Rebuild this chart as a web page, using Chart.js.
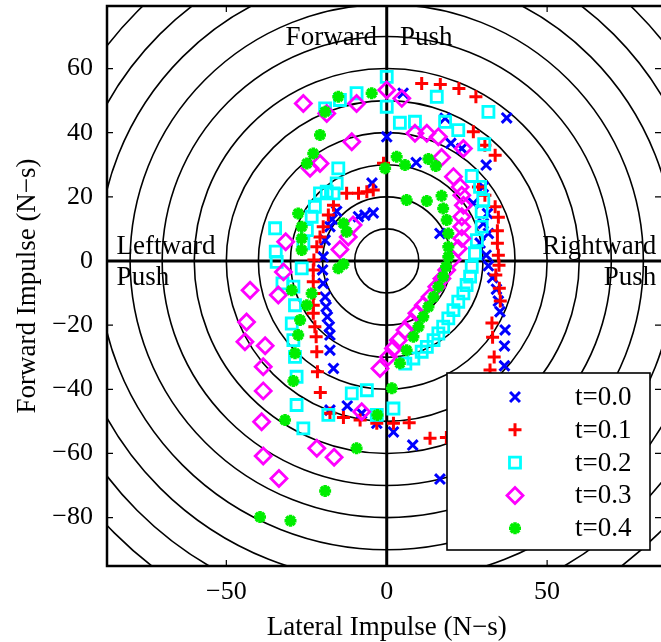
<!DOCTYPE html>
<html>
<head>
<meta charset="utf-8">
<script src="https://cdn.jsdelivr.net/npm/chart.js@4.4.0/dist/chart.umd.min.js"></script>
<style>
  html, body { margin: 0; padding: 0; background: #fff; }
</style>
</head>
<body>
<canvas id="chart" width="661" height="642"></canvas>
<script>
// Tick labels and reference circles
const xTicks = [-50, 0, 50];
const yTicks = [-80, -60, -40, -20, 0, 20, 40, 60];
const circleRadii = [10, 20, 30, 40, 50, 60, 70, 80, 90, 100, 110, 120, 130];
const seriesNames = ['t=0.0', 't=0.1', 't=0.2', 't=0.3', 't=0.4'];

// Impulse points [lateral, forward]
const t00 = [
  [37.4,44.6],[18.2,44.5],[5.1,52.3],[0,38.7],[20,36.7],[23.4,35.1],[9.2,30.7],[31,29.9],[-4.6,24.3],
  [30.1,23.1],[27,18],[31.4,14.8],[30.1,11.7],[16.6,8.6],[31.7,8.6],[29.1,5.6],[31,1.8],[31.7,-1.5],
  [33,-5.2],[34.2,-8.8],[34.8,-12.5],[35.3,-15.8],[36.9,-21.5],[36.7,-26.5],[36.7,-32.7],
  [-15.6,15.5],[-8.8,13.8],[-6.8,14.3],[-4.2,15],[-17,13],[-17.7,10.7],[-19.2,6.5],[-19.8,1.3],
  [-20,-2.8],[-19.8,-7],[-19.2,-11.2],[-18.9,-14.3],[-18.5,-17.4],[-17.9,-20.5],[-17.7,-23.1],
  [-17.7,-27.8],[-16.6,-33.5],
  [-17.7,-46.5],[-12.3,-45.2],[-7.8,-47.5],[-3.1,-50.6],[2.1,-53.3],[8.1,-57.4],[16.6,-68]
];
const t01 = [
  [10.9,55.3],[16.7,55],[22.5,53.8],[27.8,51.2],[27,40.3],[30.6,36.1],[33.8,33],[28.6,23.1],[30.6,20.5],
  [33.8,16.9],[34.8,13.6],[34.5,9.4],[34.5,5.5],[34.8,1.8],[35,-1.3],[34,-4.4],[35.1,-8.5],[35.4,-12.5],
  [32.8,-19.3],[33,-23.8],[33.5,-29.9],[32.2,-34],
  [-1,30.5],[-4.2,22.1],[-6.2,21.6],[-8.8,21.1],[-12.5,21.1],[-16.6,17.4],[-18.2,14.3],[-19.8,10.7],
  [-20.8,7.5],[-21.8,4.4],[-22.7,0.3],[-22.9,-2.8],[-22.9,-6.5],[-22.7,-10.1],[-22.9,-13.8],[-22.9,-16.3],
  [-22.4,-20.5],[-22,-23.6],[-21.8,-28.3],[-21.6,-34.5],[-20.7,-41],
  [-17.7,-47.5],[-13.5,-48.8],[-8.3,-49.6],[-3.1,-50.6],[2.1,-50.6],[7,-50.4],[13.5,-55.3],[18.6,-55]
];
const t02 = [
  [0,57.4],[-9.4,52.3],[-14.6,50.2],[-19.2,47.6],[0,48.1],[15.6,51.2],[4.1,43.1],[8.8,43.4],[18.2,43.4],
  [22.3,40.8],[31.7,46.5],[30.4,36.4],[26.5,26.5],[29.1,23.1],[30.1,19],[29.6,15.3],[29.6,10.7],[28.1,6.5],
  [27.5,2.4],[26.5,-1.8],[26,-4.9],[24.9,-7.5],[23.9,-10.1],[22.3,-12.7],[20.8,-15.3],[19.2,-17.9],
  [17.6,-20.5],[16.1,-22.6],[14.6,-24.7],[12.5,-26.8],[10.9,-28.3],[8.3,-30.4],[5.8,-32],
  [-15.1,28.9],[-15.6,24.2],[-16.6,21.1],[-18.7,21.6],[-20.8,21.1],[-22.4,16.9],[-23.4,13.8],[-24.9,9.6],
  [-26,5.5],[-26.5,-2.3],[-29.1,-8],[-28.6,-13.8],[-29.6,-19.5],[-29.1,-24.7],[-28.6,-29.9],[-28.1,-36.1],
  [-34.8,10.2],[-34.6,2.9],[-34.3,-0.3],[-32.5,-7],
  [-28.1,-44.9],[-26,-52.2],[-18.2,-48],[-10.9,-41.3],[-6.2,-40.3],[-3.1,-48],[2.1,-46]
];
const t03 = [
  [-26,49.1],[-18.7,46],[-9.4,49.1],[0,53.3],[4.7,50.7],[-10.9,37.2],[-20.8,30.4],[-23.9,28.9],
  [8.8,39.8],[12.5,39.8],[16.1,38.7],[17.1,32.3],[23.9,35.1],[20.8,26.3],[22.9,23.1],[23.4,20.5],
  [23.9,17.4],[23.4,13.8],[23.4,10.7],[23.4,7],[22.3,3.9],[20.5,0.5],[18.7,-2.8],[17.2,-5.5],[15.6,-8],
  [13.5,-11.2],[11.4,-13.8],[9.4,-16.3],[7.8,-19],[5.7,-21.5],[3.6,-24.7],[2.1,-27.3],[0.5,-29.9],[-2.1,-33.5],
  [-14.6,3.6],[-12,7.5],[-10.5,11.2],
  [-31.5,6],[-32.2,-3.4],[-42.6,-9.1],[-33.8,-10.6],[-43.7,-19],[-44.2,-25.2],[-37.9,-26.4],[-38.5,-33],
  [-38.5,-40.5],[-39,-50.1],[-38.5,-60.8],[-33.6,-67.8],[-21.8,-58.4],[-16.4,-61.2],[-7.8,-47]
];
const t04 = [
  [-15.1,51.2],[-4.7,52.3],[-19.2,46.5],[-20.8,39.3],[-22.9,33.5],[-24.9,30.4],[-0.5,28.9],[3.1,32.5],
  [5.7,29.9],[13,31.8],[15.3,29.6],[6.2,19],[12.5,18.7],[17.1,20.3],[17.6,16.4],[18.7,12.8],[19.2,8.6],
  [19.2,4.4],[19.2,1.3],[18.5,-1.8],[17.6,-4.9],[16.1,-8],[14.6,-11.2],[13,-14.3],[11.4,-17.4],[9.9,-20.5],
  [8.3,-23.6],[6.2,-27.8],[4.1,-31.9],
  [-13.5,11.7],[-12.5,9.1],[-15.1,-2.3],[-13.5,-1],
  [-27.6,14.8],[-26.5,10.7],[-26.5,7],[-26.5,3.4],[-29.6,-9.1],[-23.4,-10.1],[-24.9,-13.8],[-27,-18.4],
  [-27.6,-23.1],[-28.6,-28.8],[-29.1,-37.4],
  [1.6,-39.7],[-2.9,-48],[-9.4,-58.4],[-19.2,-71.7],[-30,-81],[-39.5,-79.8],[-31.7,-49.6]
];

const FONT = 'Liberation Serif, Times New Roman, serif';
const minus = v => (v < 0 ? '\u2212' + Math.abs(v) : String(v));

// marker look per series (MATLAB style)
const markers = [
  { pointStyle: 'crossRot', radius: 7, borderWidth: 3, color: '#0000ff' },
  { pointStyle: 'cross', radius: 6.5, borderWidth: 3, color: '#ff0000' },
  { pointStyle: 'rect', radius: 7.8, borderWidth: 2.8, color: '#00ffff' },
  { pointStyle: 'rectRot', radius: 8, borderWidth: 2.8, color: '#ff00ff' },
  { pointStyle: 'star', radius: 6, borderWidth: 3.5, color: '#00ee00' }
];

const allSeries = [t00, t01, t02, t03, t04];
const datasets = allSeries.map((pts, i) => ({
  label: seriesNames[i],
  data: pts.map(p => ({ x: p[0], y: p[1] })),
  pointStyle: markers[i].pointStyle,
  pointRadius: markers[i].radius,
  pointBorderWidth: markers[i].borderWidth,
  borderColor: markers[i].color,
  backgroundColor: 'rgba(0,0,0,0)',
  showLine: false,
  order: 4 - i // later t drawn on top, like the original
}));

// no automatic padding from tick labels, keep the plot box fixed
const noPad = s => { s.paddingTop = 0; s.paddingBottom = 0; s.paddingLeft = 0; s.paddingRight = 0; };

// circles, zero axes, frame and inward ticks
const backdrop = {
  id: 'backdrop',
  beforeDatasetsDraw(chart) {
    const { ctx, chartArea: a, scales: { x, y } } = chart;
    const cx = x.getPixelForValue(0), cy = y.getPixelForValue(0);
    ctx.save();
    ctx.beginPath();
    ctx.rect(a.left, a.top, a.right - a.left, a.bottom - a.top);
    ctx.clip();
    ctx.strokeStyle = '#000';
    ctx.lineWidth = 1.6;
    circleRadii.forEach(r => {
      const rp = x.getPixelForValue(r) - cx;
      ctx.beginPath();
      ctx.arc(cx, cy, rp, 0, Math.PI * 2);
      ctx.stroke();
    });
    ctx.lineWidth = 3;
    ctx.beginPath();
    ctx.moveTo(cx, a.top); ctx.lineTo(cx, a.bottom);
    ctx.moveTo(a.left, cy); ctx.lineTo(a.right, cy);
    ctx.stroke();
    ctx.restore();
  },
  afterDatasetsDraw(chart) {
    const { ctx, chartArea: a, scales: { x, y } } = chart;
    ctx.save();
    ctx.strokeStyle = '#000';
    ctx.lineWidth = 1.2;
    const tl = 6;
    ctx.beginPath();
    xTicks.forEach(v => {
      const px = x.getPixelForValue(v);
      ctx.moveTo(px, a.bottom); ctx.lineTo(px, a.bottom - tl);
      ctx.moveTo(px, a.top); ctx.lineTo(px, a.top + tl);
    });
    yTicks.forEach(v => {
      const py = y.getPixelForValue(v);
      ctx.moveTo(a.left, py); ctx.lineTo(a.left + tl, py);
      ctx.moveTo(a.right, py); ctx.lineTo(a.right - tl, py);
    });
    ctx.stroke();
    // frame: right side falls off the picture
    ctx.lineWidth = 2.5;
    ctx.beginPath();
    ctx.moveTo(a.right + 2, a.top);
    ctx.lineTo(a.left, a.top);
    ctx.lineTo(a.left, a.bottom);
    ctx.lineTo(a.right + 2, a.bottom);
    ctx.stroke();

    // push direction labels
    ctx.fillStyle = '#000';
    ctx.font = '27px ' + FONT;
    ctx.textBaseline = 'alphabetic';
    ctx.textAlign = 'right';
    ctx.fillText('Forward', x.getPixelForValue(-3), y.getPixelForValue(67.3));
    ctx.textAlign = 'left';
    ctx.fillText('Push', x.getPixelForValue(4.1), y.getPixelForValue(67.3));
    ctx.fillText('Leftward', x.getPixelForValue(-84.2), y.getPixelForValue(2.3));
    ctx.fillText('Push', x.getPixelForValue(-84.2), y.getPixelForValue(-7.5));
    ctx.textAlign = 'right';
    ctx.fillText('Rightward', x.getPixelForValue(84), y.getPixelForValue(2.3));
    ctx.fillText('Push', x.getPixelForValue(84), y.getPixelForValue(-7.5));

    // legend box
    const lx = 447, ly = 373, lw = 203, lh = 177;
    ctx.fillStyle = '#fff';
    ctx.fillRect(lx, ly, lw, lh);
    ctx.lineWidth = 1.6;
    ctx.strokeRect(lx, ly, lw, lh);
    chart.data.datasets.forEach((ds, i) => {
      const yy = 397 + i * 32.8;
      ctx.strokeStyle = markers[i].color;
      ctx.fillStyle = 'rgba(0,0,0,0)';
      ctx.lineWidth = markers[i].borderWidth;
      Chart.helpers.drawPoint(ctx, {
        pointStyle: markers[i].pointStyle,
        radius: markers[i].radius,
        rotation: 0,
        borderWidth: markers[i].borderWidth
      }, 515, yy);
      ctx.fillStyle = '#000';
      ctx.textAlign = 'left';
      ctx.textBaseline = 'middle';
      ctx.font = '27px ' + FONT;
      ctx.fillText(ds.label, 575, yy + 1);
    });

    // axis titles
    ctx.fillStyle = '#000';
    ctx.font = '27px ' + FONT;
    ctx.textAlign = 'center';
    ctx.textBaseline = 'alphabetic';
    ctx.fillText('Lateral Impulse (N\u2212s)', x.getPixelForValue(0), 635);
    ctx.translate(35, (a.top + a.bottom) / 2);
    ctx.rotate(-Math.PI / 2);
    ctx.fillText('Forward Impulse (N\u2212s)', 0, 0);
    ctx.restore();
  }
};

new Chart(document.getElementById('chart'), {
  type: 'scatter',
  data: { datasets: datasets },
  options: {
    responsive: false,
    animation: false,
    devicePixelRatio: 1,
    events: [],
    layout: { autoPadding: false, padding: { top: 6, right: 0, left: 0, bottom: 0 } },
    plugins: { legend: { display: false }, tooltip: { enabled: false } },
    scales: {
      x: {
        type: 'linear', min: -87.2, max: 85.5,
        afterBuildTicks: s => { s.ticks = xTicks.map(v => ({ value: v })); },
        afterFit: s => { s.height = 76; noPad(s); },
        grid: { display: false, drawTicks: false },
        border: { display: false },
        ticks: { color: '#000', font: { family: FONT, size: 26 }, padding: 11, maxRotation: 0, callback: v => minus(v) }
      },
      y: {
        type: 'linear', min: -95.1, max: 79.5,
        afterBuildTicks: s => { s.ticks = yTicks.map(v => ({ value: v })); },
        afterFit: s => { s.width = 107; noPad(s); },
        grid: { display: false, drawTicks: false },
        border: { display: false },
        ticks: { color: '#000', font: { family: FONT, size: 26 }, padding: 14, callback: v => minus(v) }
      }
    }
  },
  plugins: [backdrop]
});
</script>
</body>
</html>
